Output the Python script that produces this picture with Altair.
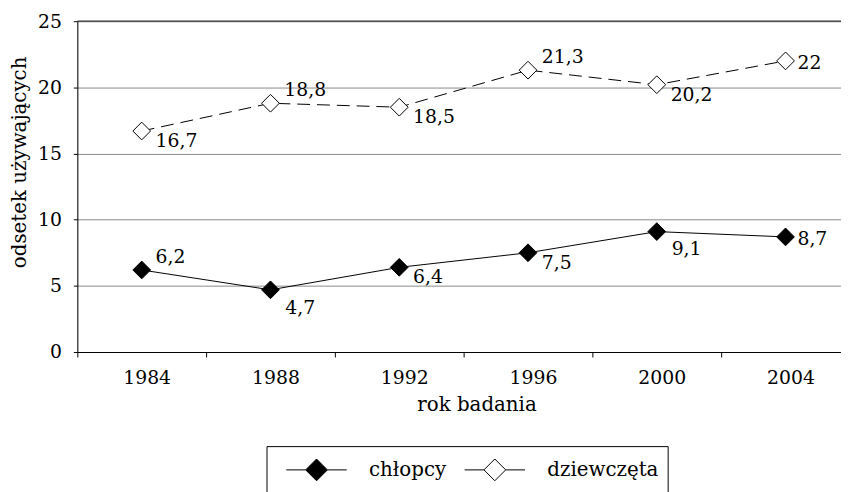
import altair as alt
import pandas as pd

years = [1984, 1988, 1992, 1996, 2000, 2004]
chlopcy = [6.2, 4.7, 6.4, 7.5, 9.1, 8.7]
dziewczeta = [16.7, 18.8, 18.5, 21.3, 20.2, 22.0]
series_names = ["chłopcy", "dziewczęta"]
y_ticks = [0, 5, 10, 15, 20, 25]

rows = []
for name, vals in zip(series_names, [chlopcy, dziewczeta]):
    for yr, v in zip(years, vals):
        rows.append({"year": yr, "series": name, "value": v})
df = pd.DataFrame(rows)
top_df = pd.DataFrame({"value": [y_ticks[-1]]})

FONT = "DejaVu Serif"
NUM = 19
WORD = 20

x_axis = alt.Axis(
    title="rok badania", titleFont=FONT, titleFontSize=WORD, titleFontWeight="normal",
    titleColor="black", titleX=403, titleY=59, titleBaseline="alphabetic", titleAlign="center",
    labelFont=FONT, labelFontSize=NUM, labelColor="black", labelAngle=0, labelPadding=12,
    labelOffset=5, tickBand="extent", tickSize=5, tickColor="black",
    domainColor="black", grid=False,
)
y_axis = alt.Axis(
    title="odsetek używających", titleFont=FONT, titleFontSize=WORD, titleFontWeight="normal",
    titleColor="black", titleAngle=270, titleX=-58, titleY=142, titleAlign="center",
    titleBaseline="middle",
    values=y_ticks, labelFont=FONT, labelFontSize=NUM, labelColor="black", labelPadding=12,
    tickSize=4, tickColor="black", domainColor="black",
    grid=True, gridColor="#8a8a8a", gridWidth=1,
)

x_enc = alt.X("year:O", sort=years,
              scale=alt.Scale(type="band", range=[0, 780], paddingInner=0, paddingOuter=0),
              axis=x_axis)
y_enc = alt.Y("value:Q", scale=alt.Scale(domain=[0, 25], nice=False), axis=y_axis)

base = alt.Chart(df)

line_boys = base.transform_filter(alt.datum.series == series_names[0]).mark_line(
    color="black", strokeWidth=1).encode(x=x_enc, y=y_enc)
line_girls = base.transform_filter(alt.datum.series == series_names[1]).mark_line(
    color="black", strokeWidth=1, strokeDash=[13, 7]).encode(x=x_enc, y=y_enc)

legend_path = "M-1,0L-0.36,0M0.36,0L1,0M-0.36,0L0,-0.36L0.36,0L0,0.36Z"

points = base.mark_point(shape="diamond", filled=True, size=320, stroke="black",
                         strokeWidth=1, opacity=1).encode(
    x=x_enc, y=y_enc,
    fill=alt.Fill("series:N", scale=alt.Scale(domain=series_names, range=["black", "white"]),
                  legend=alt.Legend(
                      title=None, orient="none", legendX=191, legendY=429, direction="horizontal",
                      symbolType=legend_path, symbolSize=3721, symbolStrokeColor="black",
                      symbolStrokeWidth=1, symbolOpacity=1, clipHeight=30, padding=9,
                      strokeColor="black", fillColor="white",
                      labelFont=FONT, labelFontSize=WORD, labelColor="black",
                      labelOffset=22, symbolOffset=10.5, columnPadding=7,
                  )),
)

placements = {
    "ar": (14, -7, [("chłopcy", 1984), ("dziewczęta", 1988), ("dziewczęta", 1996)]),
    "br": (14, 16, [("chłopcy", 1992), ("chłopcy", 1996), ("dziewczęta", 1984),
                    ("dziewczęta", 1992), ("dziewczęta", 2000)]),
    "bb": (15, 24, [("chłopcy", 1988), ("chłopcy", 2000)]),
    "r": (12, 8, [("chłopcy", 2004), ("dziewczęta", 2004)]),
}

text_layers = []
for key, (dx, dy, items) in placements.items():
    keys = [f"{s}|{y}" for s, y in items]
    t = base.transform_calculate(
        key="datum.series + '|' + datum.year",
        label="replace(format(datum.value, '.1~f'), '.', ',')",
    ).transform_filter(
        alt.FieldOneOfPredicate(field="key", oneOf=keys)
    ).mark_text(align="left", baseline="alphabetic", dx=dx, dy=dy, font=FONT,
                fontSize=NUM, color="black").encode(
        x=x_enc, y=y_enc, text="label:N",
    )
    text_layers.append(t)

top_rule = alt.Chart(top_df).mark_rule(color="#333333", strokeWidth=1.3).encode(y=y_enc)

chart = alt.layer(top_rule, line_boys, line_girls, points, *text_layers).properties(
    width=771, height=334,
    autosize=alt.AutoSizeParams(type="none"),
    padding={"left": 70, "top": 11, "right": 0, "bottom": 139},
).configure_view(stroke=None).configure(background="white")

chart.save("out.html", embed_options={"renderer": "svg", "actions": False})
